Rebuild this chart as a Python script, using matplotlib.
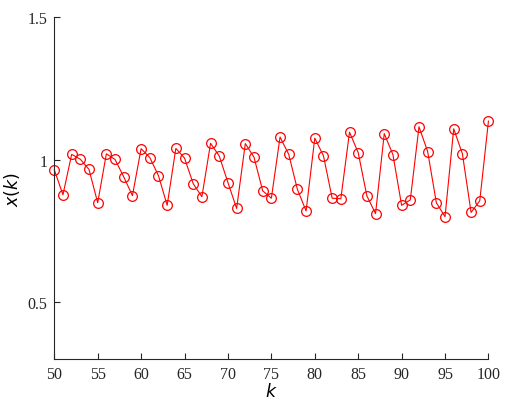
import matplotlib
matplotlib.use('Agg')
import matplotlib.pyplot as plt

k = list(range(50, 101))
x_k = [0.965, 0.877, 1.019, 1.002, 0.966, 0.849, 1.021, 1.001, 0.940, 0.874,
       1.039, 1.008, 0.944, 0.840, 1.040, 1.006, 0.916, 0.870, 1.058, 1.013,
       0.920, 0.829, 1.057, 1.009, 0.891, 0.865, 1.080, 1.019, 0.896, 0.820,
       1.076, 1.014, 0.865, 0.863, 1.097, 1.025, 0.873, 0.811, 1.092, 1.018,
       0.840, 0.859, 1.116, 1.029, 0.849, 0.800, 1.109, 1.021, 0.815, 0.856,
       1.136]
x_ticks = [50, 55, 60, 65, 70, 75, 80, 85, 90, 95, 100]
y_ticks = [0.5, 1.0, 1.5]
y_tick_labels = ['0.5', '1', '1.5']

fig = plt.figure(figsize=(5.12, 4.02), dpi=100)
ax = fig.add_axes([0.106, 0.1045, 0.848, 0.8495])

ax.plot(k, x_k, '-o', color='red', lw=0.8, markersize=7,
        markerfacecolor='none', markeredgewidth=0.9, clip_on=False)

ax.set_xlim(50, 100)
ax.set_ylim(0.3, 1.5)
ax.set_xticks(x_ticks)
ax.set_yticks(y_ticks)
ax.set_yticklabels(y_tick_labels)

for s in ['top', 'right']:
    ax.spines[s].set_visible(False)
for s in ['left', 'bottom']:
    ax.spines[s].set_color('#262626')
    ax.spines[s].set_linewidth(0.8)

ax.tick_params(direction='in', length=4, width=0.8, color='#262626',
               labelsize=11.5, pad=5)
for lbl in ax.get_xticklabels() + ax.get_yticklabels():
    lbl.set_family('Liberation Serif')
    lbl.set_color('#262626')

ax.set_xlabel('$k$', fontsize=12.5, family='DejaVu Sans', labelpad=0)
ax.set_ylabel('$x(k)$', fontsize=12.5, family='DejaVu Sans', labelpad=4)

fig.savefig('out.png', dpi=100)
